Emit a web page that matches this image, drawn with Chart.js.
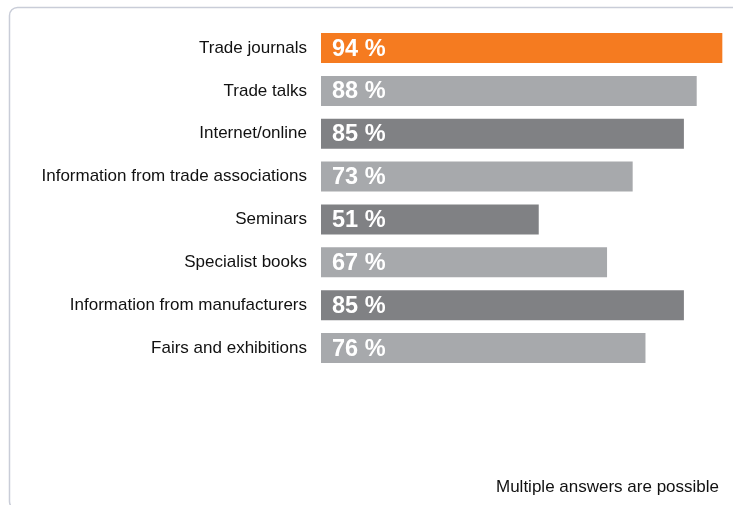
<!DOCTYPE html>
<html>
<head>
<meta charset="utf-8">
<script src="https://cdn.jsdelivr.net/npm/chart.js@4/dist/chart.umd.min.js"></script>
<style>
  html, body { margin: 0; padding: 0; background: #fff; }
  #wrap { width: 733px; height: 505px; position: relative; }
</style>
</head>
<body>
<div id="wrap"><canvas id="myChart"></canvas></div>
<script>
const categories = [
  'Trade journals',
  'Trade talks',
  'Internet/online',
  'Information from trade associations',
  'Seminars',
  'Specialist books',
  'Information from manufacturers',
  'Fairs and exhibitions'
];
const shares = [94, 88, 85, 73, 51, 67, 85, 76];
const barColors = ['#f57b20', '#a7a9ac', '#808184', '#a7a9ac', '#808184', '#a7a9ac', '#808184', '#a7a9ac'];
const footnote = 'Multiple answers are possible';

// frame + footnote
const framePlugin = {
  id: 'frame',
  beforeDraw(chart) {
    const c = chart.ctx;
    c.save();
    c.strokeStyle = '#c9cdd8';
    c.lineWidth = 1.5;
    const x = 9.5, y = 7.5, w = 740, h = 502, r = 8;
    c.beginPath();
    c.moveTo(x + r, y);
    c.lineTo(x + w, y);
    c.moveTo(x + r, y);
    c.arcTo(x, y, x, y + r, r);
    c.lineTo(x, y + h - r);
    c.arcTo(x, y + h, x + r, y + h, r);
    c.stroke();
    c.restore();
  },
  afterDraw(chart) {
    const c = chart.ctx;
    c.save();
    c.font = '17px "Liberation Sans", Arial, sans-serif';
    c.fillStyle = '#111111';
    c.textAlign = 'right';
    c.textBaseline = 'middle';
    c.fillText(footnote, 719, 487);
    c.restore();
  }
};

// percent labels inside bars
const valueLabels = {
  id: 'valueLabels',
  afterDatasetsDraw(chart) {
    const c = chart.ctx;
    const meta = chart.getDatasetMeta(0);
    c.save();
    c.font = 'bold 23.5px "Liberation Sans", Arial, sans-serif';
    c.fillStyle = '#ffffff';
    c.textAlign = 'left';
    c.textBaseline = 'middle';
    meta.data.forEach((bar, i) => {
      c.fillText(shares[i] + ' %', bar.base + 11, bar.y + 1);
    });
    c.restore();
  }
};

new Chart(document.getElementById('myChart'), {
  type: 'bar',
  data: {
    labels: categories,
    datasets: [{
      data: shares,
      backgroundColor: barColors,
      borderWidth: 0,
      barPercentage: 1,
      categoryPercentage: 0.7
    }]
  },
  options: {
    indexAxis: 'y',
    responsive: true,
    maintainAspectRatio: false,
    animation: false,
    layout: { padding: { left: 0, right: 0, top: 26.6, bottom: 135.5 } },
    plugins: {
      legend: { display: false },
      tooltip: { enabled: false }
    },
    scales: {
      x: {
        display: false,
        min: 0,
        max: 96.5
      },
      y: {
        grid: { display: false, drawTicks: false },
        border: { display: false },
        ticks: {
          padding: 14,
          color: '#111111',
          font: { size: 17, family: '"Liberation Sans", Arial, sans-serif' }
        },
        afterFit(scale) { scale.width = 321; }
      }
    }
  },
  plugins: [framePlugin, valueLabels]
});
</script>
</body>
</html>
